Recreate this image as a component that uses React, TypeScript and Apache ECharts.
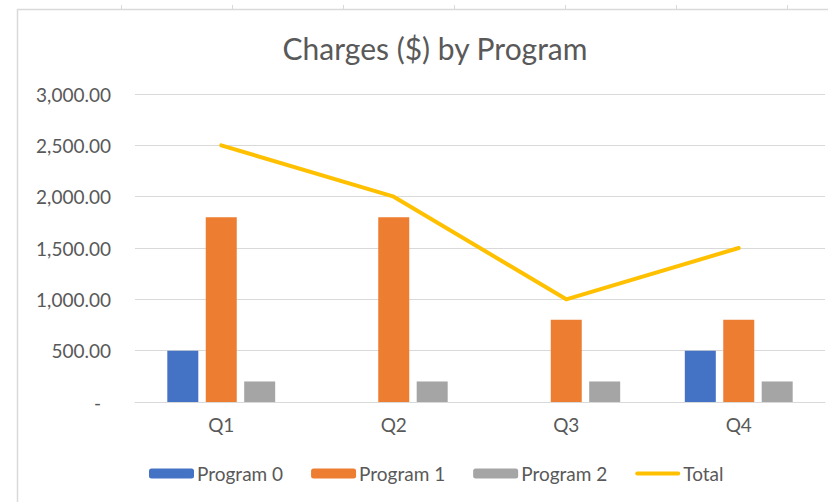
import React, { useEffect, useRef } from "react";
import * as echarts from "echarts";

const categories = ["Q1", "Q2", "Q3", "Q4"];
const program0 = [500, 0, 0, 500];
const program1 = [1800, 1800, 800, 800];
const program2 = [200, 200, 200, 200];
const total = [2500, 2000, 1000, 1500];
const seriesNames = ["Program 0", "Program 1", "Program 2", "Total"];
const colors = ["#4472C4", "#ED7D31", "#A5A5A5", "#FFC000"];
const sheetColumnTicks = [121, 232, 343, 454, 565, 676, 787];

const FONT = "Lato, 'Noto Sans', sans-serif";
const TEXT = "#595959";
const GRID = "#D9D9D9";
const LINE_ICON = "path://M2,0 L43,0 A2,2 0 0 1 43,4 L2,4 A2,2 0 0 1 2,0 Z";

export default function App() {
  const ref = useRef<HTMLDivElement>(null);
  useEffect(() => {
    if (!ref.current) return;
    const chart = echarts.init(ref.current, undefined, { renderer: "svg" });
    const fmt = (v: number) =>
      v === 0
        ? "{d|-}"
        : v.toLocaleString("en-US", { minimumFractionDigits: 2, maximumFractionDigits: 2 });
    chart.setOption({
      animation: false,
      backgroundColor: "#ffffff",
      textStyle: { fontFamily: FONT },
      title: {
        text: "Charges ($) by Program",
        left: 430,
        top: 28,
        textAlign: "center",
        textStyle: { fontFamily: FONT, fontSize: 30, fontWeight: "normal", color: TEXT },
      },
      graphic: [
        {
          type: "line",
          shape: { x1: 17, y1: 9.5, x2: 828, y2: 9.5 },
          style: { stroke: GRID, lineWidth: 1.5 },
        },
        {
          type: "line",
          shape: { x1: 17.5, y1: 9, x2: 17.5, y2: 502 },
          style: { stroke: GRID, lineWidth: 1.5 },
        },
        ...sheetColumnTicks.map((x) => ({
          type: "line",
          shape: { x1: x + 0.5, y1: 5, x2: x + 0.5, y2: 9 },
          style: { stroke: GRID, lineWidth: 1 },
        })),
      ],
      legend: {
        data: [
          { name: seriesNames[0] },
          { name: seriesNames[1] },
          { name: seriesNames[2] },
          { name: seriesNames[3], icon: LINE_ICON },
        ],
        left: 144,
        top: 459,
        itemWidth: 45,
        itemHeight: 10,
        itemGap: 28,
        symbolKeepAspect: true,
        textStyle: { fontFamily: FONT, fontSize: 19, color: TEXT, padding: [0, 0, 0, -2] },
      },
      grid: { left: 135, right: 3, top: 94, bottom: 100, containLabel: false },
      xAxis: {
        type: "category",
        data: categories,
        axisLine: { lineStyle: { color: GRID, width: 1 } },
        axisTick: { show: false },
        axisLabel: { color: TEXT, fontSize: 19, fontFamily: FONT, margin: 13 },
      },
      yAxis: {
        type: "value",
        min: 0,
        max: 3000,
        interval: 500,
        axisLine: { show: false },
        axisTick: { show: false },
        splitLine: { lineStyle: { color: GRID, width: 1 } },
        axisLabel: {
          color: TEXT,
          fontSize: 19,
          fontFamily: FONT,
          margin: 24,
          formatter: fmt,
          rich: { d: { color: TEXT, fontSize: 19, fontFamily: FONT, padding: [0, 10, 0, 0] } },
        },
      },
      series: [
        {
          name: seriesNames[0],
          type: "bar",
          data: program0,
          barWidth: 31,
          barGap: "24%",
          itemStyle: { color: colors[0] },
        },
        {
          name: seriesNames[1],
          type: "bar",
          data: program1,
          barWidth: 31,
          barGap: "24%",
          itemStyle: { color: colors[1] },
        },
        {
          name: seriesNames[2],
          type: "bar",
          data: program2,
          barWidth: 31,
          barGap: "24%",
          itemStyle: { color: colors[2] },
        },
        {
          name: seriesNames[3],
          type: "line",
          data: total,
          symbol: "none",
          lineStyle: { color: colors[3], width: 4, cap: "round", join: "round" },
          itemStyle: { color: colors[3] },
        },
      ],
    });
    return () => chart.dispose();
  }, []);
  return (
    <div
      ref={ref}
      style={{ position: "absolute", left: 0, top: 0, width: 828, height: 502 }}
    />
  );
}
